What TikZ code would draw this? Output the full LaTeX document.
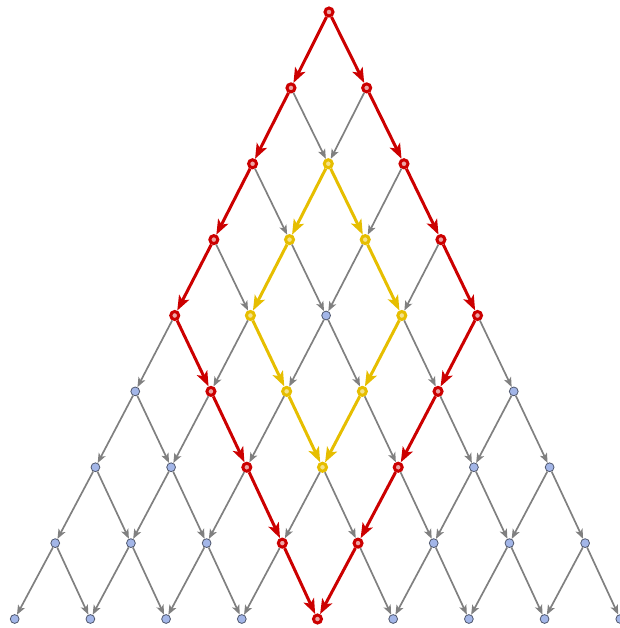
\documentclass[tikz,border=0pt]{standalone}
\usetikzlibrary{arrows.meta}
\definecolor{hlred}{RGB}{204,0,0}
\definecolor{hlyellow}{RGB}{230,190,0}
\definecolor{vtxblue}{RGB}{163,182,232}
\definecolor{vtxrim}{RGB}{80,88,110}
\definecolor{lnkgray}{RGB}{128,128,128}
\tikzset{
  vtx/.style={circle, inner sep=0pt, minimum size=4.4pt, fill=vtxblue, draw=vtxrim, line width=0.4pt},
  redvtx/.style={circle, inner sep=0pt, minimum size=4pt, fill=hlred!35!white, draw=hlred, line width=1.5pt},
  yelvtx/.style={circle, inner sep=0pt, minimum size=4pt, fill=hlyellow!45!white, draw=hlyellow, line width=1.5pt},
  lnk/.style={draw=lnkgray, line width=0.85pt, -{Stealth[length=4.8pt,width=3.8pt,inset=1.2pt]}},
  redlnk/.style={draw=hlred, line width=1.5pt, -{Stealth[length=7.5pt,width=5.6pt,inset=1.8pt]}},
  yellnk/.style={redlnk, draw=hlyellow}
}
% the two highlighted routes, as row-place/row-place
\newcommand{\redroute}{0-0/1-0,1-0/2-0,2-0/3-0,3-0/4-0,4-0/5-1,5-1/6-2,6-2/7-3,7-3/8-4,
  0-0/1-1,1-1/2-2,2-2/3-3,3-3/4-4,4-4/5-4,5-4/6-4,6-4/7-4,7-4/8-4}
\newcommand{\yelroute}{2-1/3-1,3-1/4-1,4-1/5-2,5-2/6-3,2-1/3-2,3-2/4-3,4-3/5-3,5-3/6-3}

\begin{document}
\begin{tikzpicture}[x=0.5pt,y=-0.5pt]
\useasboundingbox (0,0) rectangle (620,628);
% mark highlighted vertices and links
\foreach \a/\b in \redroute {
  \expandafter\gdef\csname hl@\a/\b\endcsname{}
  \expandafter\gdef\csname vc@\a\endcsname{redvtx}
  \expandafter\gdef\csname vc@\b\endcsname{redvtx}}
\foreach \a/\b in \yelroute {
  \expandafter\gdef\csname hl@\a/\b\endcsname{}
  \expandafter\gdef\csname vc@\a\endcsname{yelvtx}
  \expandafter\gdef\csname vc@\b\endcsname{yelvtx}}
% vertices, row by row
\foreach \k in {0,...,8}
  \foreach \i in {0,...,\k} {
    \pgfmathsetmacro{\px}{329+75.7*(\i-\k/2)-0.18*\k*\k}
    \pgfmathsetmacro{\py}{12+75.875*\k}
    \edef\vs{\ifcsname vc@\k-\i\endcsname\csname vc@\k-\i\endcsname\else vtx\fi}
    \node[\vs] (v-\k-\i) at (\px,\py) {};
  }
% plain links
\foreach \k in {0,...,7}
  \foreach \i in {0,...,\k}
    \foreach \d in {0,1} {
      \pgfmathtruncatemacro{\kk}{\k+1}
      \pgfmathtruncatemacro{\j}{\i+\d}
      \ifcsname hl@\k-\i/\kk-\j\endcsname\else
        \draw[lnk] (v-\k-\i) -- (v-\kk-\j);
      \fi
    }
% highlighted links
\foreach \a/\b in \yelroute \draw[yellnk] (v-\a) -- (v-\b);
\foreach \a/\b in \redroute \draw[redlnk] (v-\a) -- (v-\b);
\end{tikzpicture}
\end{document}
